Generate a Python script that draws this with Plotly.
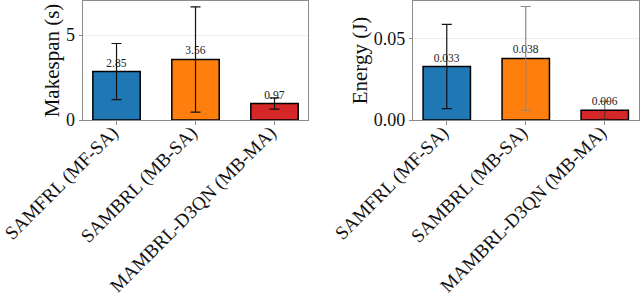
import plotly.graph_objects as go

methods = ["SAMFRL (MF-SA)", "SAMBRL (MB-SA)", "MAMBRL-D3QN (MB-MA)"]
colors = ["#1f77b4", "#ff7f0e", "#d62728"]

makespan_mean = [2.85, 3.56, 0.97]
makespan_err = [1.65, 3.10, 0.33]
makespan_labels = ["2.85", "3.56", "0.97"]

energy_mean = [0.033, 0.038, 0.006]
energy_err = [0.026, 0.032, 0.0055]
energy_labels = ["0.033", "0.038", "0.006"]

energy_err_colors = ["#111111", "#8a8a8a", "rgba(40,40,40,0.6)"]

FONT = "Liberation Serif"

fig = go.Figure()

for i, m in enumerate(methods):
    fig.add_trace(go.Bar(
        x=[m], y=[makespan_mean[i]], xaxis="x", yaxis="y",
        marker=dict(color=colors[i], line=dict(color="black", width=1.5)),
        width=0.6,
        error_y=dict(type="data", array=[makespan_err[i]], color="#111111", thickness=1.2, width=5),
        text=[makespan_labels[i]], textposition="outside", cliponaxis=False,
        textfont=dict(family=FONT, size=11.5, color="#222"),
        showlegend=False,
    ))
    fig.add_trace(go.Bar(
        x=[m], y=[energy_mean[i]], xaxis="x2", yaxis="y2",
        marker=dict(color=colors[i], line=dict(color="black", width=1.5)),
        width=0.6,
        error_y=dict(type="data", array=[energy_err[i]], color=energy_err_colors[i], thickness=1.2, width=5),
        text=[energy_labels[i]], textposition="outside", cliponaxis=False,
        textfont=dict(family=FONT, size=11.5, color="#222"),
        showlegend=False,
    ))

xcommon = dict(
    type="category", categoryorder="array", categoryarray=methods,
    range=[-0.43, 2.43], tickangle=-45, automargin=False,
    tickfont=dict(family=FONT, size=19, color="#111"),
    ticklabelstandoff=-11, ticklabelshift=-4,
    showline=True, linecolor="#8c8c8c", linewidth=1, mirror=True,
    ticks="outside", ticklen=4, tickcolor="#8c8c8c", showgrid=False,
)
ycommon = dict(
    showline=True, linecolor="#8c8c8c", linewidth=1, mirror=True, automargin=False,
    ticks="outside", ticklen=3, tickcolor="#8c8c8c",
    showgrid=True, gridcolor="#efefef", gridwidth=1, zeroline=False,
    tickfont=dict(family=FONT, size=18, color="#111"),
)

fig.update_layout(
    width=640, height=295,
    margin=dict(l=0, r=0, t=1, b=175),
    paper_bgcolor="white", plot_bgcolor="white",
    font=dict(family=FONT),
    bargap=0.4,
    xaxis=dict(domain=[0.129, 0.482], anchor="y", **xcommon),
    xaxis2=dict(domain=[0.645, 0.998], anchor="y2", **xcommon),
    yaxis=dict(domain=[0, 1], anchor="x", range=[0, 7.0], tickvals=[0, 5], ticktext=["0", "5"],
               title=dict(text="Makespan (s)", font=dict(family=FONT, size=21, color="#111"), standoff=0),
               **ycommon),
    yaxis2=dict(domain=[0, 1], anchor="x2", range=[0, 0.0734], tickvals=[0, 0.05], ticktext=["0.00", "0.05"],
                title=dict(text="Energy (J)", font=dict(family=FONT, size=21, color="#111"), standoff=0),
                **ycommon),
)

fig.write_html("out.html", config={"displayModeBar": False},
               post_script="document.body.style.margin='0px';document.body.style.overflow='hidden';")
